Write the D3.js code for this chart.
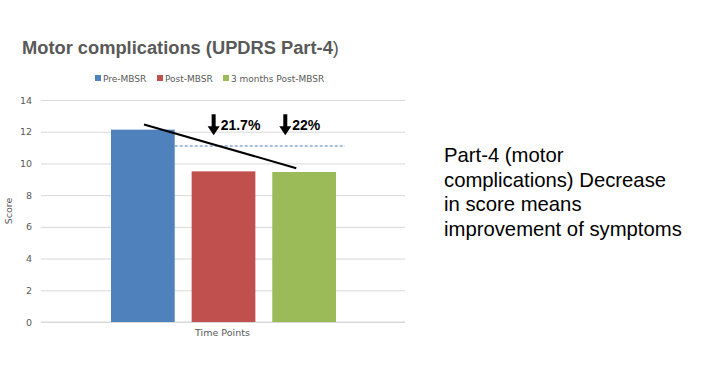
<!DOCTYPE html>
<html>
<head>
<meta charset="utf-8">
<script src="https://cdn.jsdelivr.net/npm/d3@7"></script>
<style>
body { margin: 0; background: #fff; }
svg { font-family: "Liberation Sans", Arial, sans-serif; }
</style>
</head>
<body>
<div id="chart"></div>
<script>
// data
let series = ["Pre-MBSR", "Post-MBSR", "3 months Post-MBSR"];
let values = [12.13, 9.5, 9.46];
let colors = ["#4f81bd", "#c0504d", "#9bbb59"];
let yTicks = [0, 2, 4, 6, 8, 10, 12, 14];
let refLine = 11.1;
let trendLine = [12.45, 9.7];
let changeLabels = ["21.7%", "22%"];
let noteLines = ["Part-4 (motor", "complications) Decrease", "in score means", "improvement of symptoms"];

let fullWidth = 706, fullHeight = 367;
let margin = { top: 100, left: 41, right: 301, bottom: 45 };
let width = fullWidth - margin.left - margin.right;
let height = fullHeight - margin.top - margin.bottom;

let root = d3.select("#chart").append("svg")
    .attr("width", fullWidth)
    .attr("height", fullHeight);

root.append("text")
    .attr("x", 22).attr("y", 54)
    .style("font-size", "18.3px")
    .style("font-weight", "bold")
    .style("fill", "#595959")
    .text("Motor complications (UPDRS Part-4")
    .append("tspan").style("font-weight", "normal").text(")");

let svg = root.append("g")
    .attr("transform", `translate(${margin.left},${margin.top})`);

let y = d3.scaleLinear().domain([0, 14]).range([height, 0]);
let x = d3.scaleBand().domain(series).range([70, 295]).paddingInner(0.21).paddingOuter(0);

// grid
svg.append("g")
    .call(d3.axisLeft(y).tickValues(yTicks).tickSize(-width).tickFormat(""))
    .call(g => g.select(".domain").remove())
    .selectAll("line").attr("stroke", "#d9d9d9");

// tick labels
svg.append("g")
    .call(d3.axisLeft(y).tickValues(yTicks).tickSize(0).tickPadding(9))
    .call(g => g.select(".domain").remove())
    .selectAll("text")
    .style("font-size", "9.5px")
    .style("font-family", "DejaVu Sans, sans-serif")
    .style("fill", "#595959");

svg.append("line")
    .attr("x1", 0).attr("x2", width)
    .attr("y1", y(0)).attr("y2", y(0))
    .attr("stroke", "#d9d9d9").attr("stroke-width", 1.2);

svg.selectAll(".bar")
    .data(series)
    .enter()
    .append("rect")
    .attr("class", "bar")
    .attr("x", d => x(d))
    .attr("y", (d, i) => y(values[i]))
    .attr("width", x.bandwidth())
    .attr("height", (d, i) => y(0) - y(values[i]))
    .attr("fill", (d, i) => colors[i]);

// dashed reference from top of first bar
svg.append("line")
    .attr("x1", x(series[0]) + x.bandwidth())
    .attr("x2", x(series[2]) + x.bandwidth() + 9)
    .attr("y1", y(refLine)).attr("y2", y(refLine))
    .attr("stroke", "#4f81bd")
    .attr("stroke-dasharray", "3,2")
    .attr("stroke-width", 1);

// trend line
svg.append("line")
    .attr("x1", x(series[0]) + 33).attr("y1", y(trendLine[0]))
    .attr("x2", x(series[2]) + 24).attr("y2", y(trendLine[1]))
    .attr("stroke", "#000").attr("stroke-width", 2);

// arrows + labels
[series[1], series[2]].forEach((s, i) => {
    let ax = x(s) + (i === 0 ? 22 : 13);
    let top = y(13.1);
    let g = svg.append("g");
    g.append("rect")
        .attr("x", ax - 2).attr("y", top)
        .attr("width", 4).attr("height", 13)
        .attr("fill", "#000");
    g.append("path")
        .attr("d", `M${ax - 6},${top + 12} L${ax + 6},${top + 12} L${ax},${top + 21} Z`)
        .attr("fill", "#000");
    g.append("text")
        .attr("x", ax + 7).attr("y", top + 16)
        .style("font-size", "14px")
        .style("font-weight", "bold")
        .style("fill", "#000")
        .text(changeLabels[i]);
});

svg.append("text")
    .attr("transform", `translate(${-29},${y(7)}) rotate(-90)`)
    .attr("text-anchor", "middle")
    .style("font-size", "9.5px")
    .style("font-family", "DejaVu Sans, sans-serif")
    .style("fill", "#595959")
    .text("Score");

svg.append("text")
    .attr("x", x(series[1]) + x.bandwidth() / 2 - 1)
    .attr("y", height + 14)
    .attr("text-anchor", "middle")
    .style("font-size", "9.5px")
    .style("font-family", "DejaVu Sans, sans-serif")
    .style("fill", "#595959")
    .text("Time Points");

// legend
let legendX = [95, 157, 223];
let legend = root.append("g");
series.forEach((s, i) => {
    legend.append("rect")
        .attr("x", legendX[i]).attr("y", 75)
        .attr("width", 6).attr("height", 6)
        .attr("fill", colors[i]);
    legend.append("text")
        .attr("x", legendX[i] + 8).attr("y", 81.5)
        .style("font-size", "9px")
        .style("font-family", "DejaVu Sans, sans-serif")
        .style("fill", "#595959")
        .text(s);
});

// side note
root.append("text")
    .attr("x", 444).attr("y", 162)
    .style("font-size", "20.3px")
    .style("fill", "#000")
    .selectAll("tspan")
    .data(noteLines)
    .enter()
    .append("tspan")
    .attr("x", 444)
    .attr("dy", (d, i) => i === 0 ? 0 : 24.5)
    .text(d => d);
</script>
</body>
</html>
